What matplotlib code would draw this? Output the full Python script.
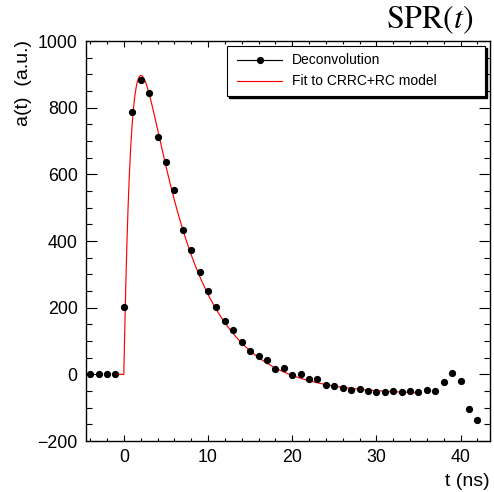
import numpy as np
import matplotlib
matplotlib.use("Agg")
import matplotlib.pyplot as plt
from matplotlib.patches import Rectangle
from matplotlib.lines import Line2D
from matplotlib.ticker import MultipleLocator

# ── Data ────────────────────────────────────────────────────────────────────
t_ns = list(range(-4, 43))
amplitude = [
    0, 0, 0, 0, 201, 787, 883, 845, 711, 638,
    552, 433, 372, 308, 251, 201, 159, 133, 96, 70,
    55, 43, 16, 18, -3, 2, -15, -15, -31, -35,
    -41, -46, -45, -49, -53, -52, -49, -52, -51, -53,
    -48, -49, -22, 3, -21, -103, -137,
]

# fit parameters (CRRC+RC shape, estimated)
FIT_RANGE = (-1.0, 35.0)
T0 = 0.0
AMP = 1540.0
TAU_DECAY = 5.9
TAU_RISE = 0.95
UNDERSHOOT = 60.0
TAU_UNDER = 8.0

W, H = 494, 492
RED = "#ff0000"

plt.rcParams.update(
    {
        "font.family": ["Liberation Sans", "DejaVu Sans"],
        "mathtext.fontset": "stix",
        "axes.linewidth": 1.0,
    }
)


def spr_model(t):
    s = np.clip(t - T0, 0, None)
    pulse = AMP * (np.exp(-s / TAU_DECAY) - np.exp(-s / TAU_RISE))
    tail = UNDERSHOOT * (1 - np.exp(-s / TAU_UNDER))
    return np.where(t > T0, pulse - tail, 0.0)


def fx(x):
    return x / W


def fy(y):
    return 1 - y / H


fig = plt.figure(figsize=(W / 100, H / 100), dpi=100)
fig.patch.set_facecolor("white")
ax = fig.add_axes([fx(86), fy(441), (490 - 86) / W, (441 - 41) / H])

tt = np.linspace(*FIT_RANGE, 1200)
ax.plot(tt, spr_model(tt), color=RED, lw=0.85, zorder=2)
ax.plot(t_ns, amplitude, "o", color="black", ms=4.2, zorder=3)

ax.set_xlim(-4.5, 43.5)
ax.set_ylim(-200, 1000)
ax.xaxis.set_major_locator(MultipleLocator(10))
ax.xaxis.set_minor_locator(MultipleLocator(2))
ax.yaxis.set_major_locator(MultipleLocator(200))
ax.yaxis.set_minor_locator(MultipleLocator(50))
ax.tick_params(axis="both", which="both", direction="in", top=True, right=True,
               labelsize=12.8, width=0.8)
ax.tick_params(axis="x", which="major", length=4.5, pad=6)
ax.tick_params(axis="x", which="minor", length=2.2)
ax.tick_params(axis="y", which="major", length=8, pad=6)
ax.tick_params(axis="y", which="minor", length=4.2)

fig.text(fx(490), fy(482), "t (ns)", ha="right", va="center", fontsize=14)
fig.text(fx(23), fy(40), "a(t)  (a.u.)", ha="center", va="top",
         rotation=90, fontsize=14)
fig.text(fx(474), fy(20), r"$\mathrm{SPR}(t)$", ha="right", va="center",
         fontsize=23)

# legend box with ROOT style shadow
lx0, ly0, lx1, ly1 = 227, 46, 485, 96
fig.patches.append(Rectangle((fx(lx0 + 2), fy(ly1 + 2)), (lx1 - lx0) / W,
                             (ly1 - ly0) / H, transform=fig.transFigure,
                             facecolor="black", edgecolor="black", zorder=5))
fig.patches.append(Rectangle((fx(lx0), fy(ly1)), (lx1 - lx0) / W,
                             (ly1 - ly0) / H, transform=fig.transFigure,
                             facecolor="white", edgecolor="black", lw=0.8,
                             zorder=6))
row1, row2 = 59.5, 81
fig.lines.append(Line2D([fx(237), fx(282)], [fy(row1), fy(row1)],
                        transform=fig.transFigure, color="black", lw=0.85,
                        zorder=7))
fig.lines.append(Line2D([fx(260)], [fy(row1)], transform=fig.transFigure,
                        marker="o", color="black", ms=4.2, zorder=7))
fig.lines.append(Line2D([fx(237), fx(282)], [fy(row2), fy(row2)],
                        transform=fig.transFigure, color=RED, lw=0.85,
                        zorder=7))
fig.text(fx(292), fy(row1), "Deconvolution", ha="left", va="center",
         fontsize=10, zorder=8)
fig.text(fx(292), fy(row2), "Fit to CRRC+RC model", ha="left", va="center",
         fontsize=10, zorder=8)

fig.savefig("out.png", dpi=100)
